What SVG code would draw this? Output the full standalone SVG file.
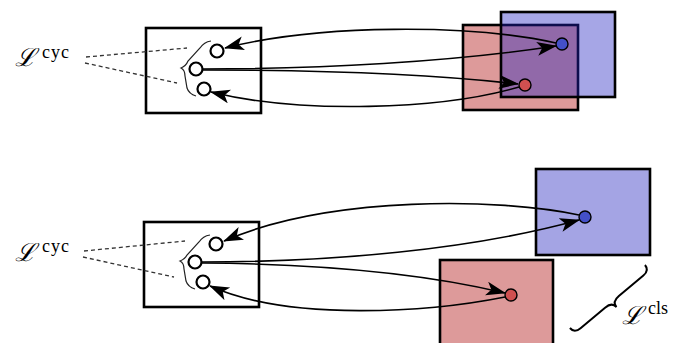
<svg xmlns="http://www.w3.org/2000/svg" width="675" height="343" viewBox="0 0 675 343">
<defs>
<marker id="ah" markerUnits="userSpaceOnUse" markerWidth="24" markerHeight="16" refX="19" refY="7" orient="auto">
<path d="M0,0 L20,7 L0,14 L5,7 z" fill="#000"/>
</marker>
<style>
.box{fill:#fff;stroke:#000;stroke-width:2.6}
.red{fill:#dd9a9a;stroke:#000;stroke-width:2.6}
.blue{fill:rgb(32,32,192);fill-opacity:0.4;stroke:#000;stroke-width:2.6}
.blue2{fill:#a4a4e4;stroke:#000;stroke-width:2.6}
.c{fill:#fff;stroke:#000;stroke-width:2.2}
.bd{fill:#4450c8;stroke:#000;stroke-width:1.4}
.rd{fill:#d05050;stroke:#000;stroke-width:1.4}
.dash{fill:none;stroke:#333;stroke-width:1.3;stroke-dasharray:4 3}
.br{fill:none;stroke:#222;stroke-width:1.2}
.br2{fill:none;stroke:#000;stroke-width:2}
.ar2{fill:none;stroke:#000;stroke-width:1.6;marker-end:url(#ah)}
.L{font-family:"DejaVu Serif","Liberation Serif",serif;font-size:25px;font-style:italic}
.sup{font-family:"Liberation Serif","DejaVu Serif",serif;font-size:18px}
</style>
</defs>

<g id="top-left">
<rect class="box" x="146" y="28" width="115" height="85"/>
<circle class="c" cx="217" cy="51" r="6.5"/>
<circle class="c" cx="196" cy="69" r="6.5"/>
<circle class="c" cx="204" cy="89" r="6.5"/>
<path class="br" d="M211,41 Q204,42 200,48 L188,61 Q186,66 181,68 Q185,70 185,76 L187,88 Q189,94 196,96"/>
</g>
<g id="top-label">
<line class="dash" x1="86" y1="57" x2="187" y2="48"/>
<line class="dash" x1="85" y1="63" x2="177" y2="83"/>
<text x="15" y="66"><tspan class="L">ℒ</tspan><tspan class="sup" x="42" y="58" textLength="27">cyc</tspan></text>
</g>
<g id="top-right">
<rect class="red" x="463" y="25" width="115" height="85"/>
<rect class="blue" x="501" y="12" width="114" height="85"/>
</g>

<g id="bottom-left">
<rect class="box" x="144" y="222" width="115" height="85"/>
<circle class="c" cx="216" cy="244" r="6.5"/>
<circle class="c" cx="195" cy="262" r="6.5"/>
<circle class="c" cx="203" cy="282" r="6.5"/>
<path class="br" d="M210,235 Q203,236 199,242 L187,255 Q185,259 180,261 Q184,263 184,269 L186,281 Q188,287 195,289"/>
</g>
<g id="bottom-label">
<line class="dash" x1="84" y1="251" x2="185" y2="241"/>
<line class="dash" x1="83" y1="257" x2="174" y2="277"/>
<text x="15" y="261"><tspan class="L">ℒ</tspan><tspan class="sup" x="42" y="252" textLength="27">cyc</tspan></text>
</g>
<g id="bottom-blue">
<rect class="blue2" x="536" y="169" width="114" height="86"/>
</g>
<g id="bottom-red">
<rect class="red" x="440" y="260" width="113" height="90"/>
</g>
<g id="cls-label">
<path class="br2" transform="translate(645,265) rotate(50)" d="M0,0 Q7,0 7,8 L7,40 Q7,49 14,49 Q7,49 7,58 L7,90 Q7,98 0,98"/>
<text x="622" y="324"><tspan class="L">ℒ</tspan><tspan class="sup" x="648" y="314">cls</tspan></text>
</g>

<g id="connectors">
<path class="ar2" d="M556,43 C470,24 320,24 225,48"/>
<path class="ar2" d="M203,69 C320,69 450,62 556,46"/>
<path class="ar2" d="M203,70 C320,70 430,74 518,84"/>
<path class="ar2" d="M519,87 C440,110 300,114 211,92"/>
<path class="ar2" d="M579,215 C500,198 330,195 224,241"/>
<path class="ar2" d="M202,262 C330,262 470,250 579,220"/>
<path class="ar2" d="M202,263 C330,264 430,275 505,293"/>
<path class="ar2" d="M505,297 C430,312 290,322 210,286"/>
</g>

<g id="dots">
<circle class="bd" cx="562" cy="44" r="6"/>
<circle class="rd" cx="525" cy="85" r="6"/>
<circle class="bd" cx="585" cy="217" r="6"/>
<circle class="rd" cx="511" cy="295" r="6"/>
</g>
</svg>
